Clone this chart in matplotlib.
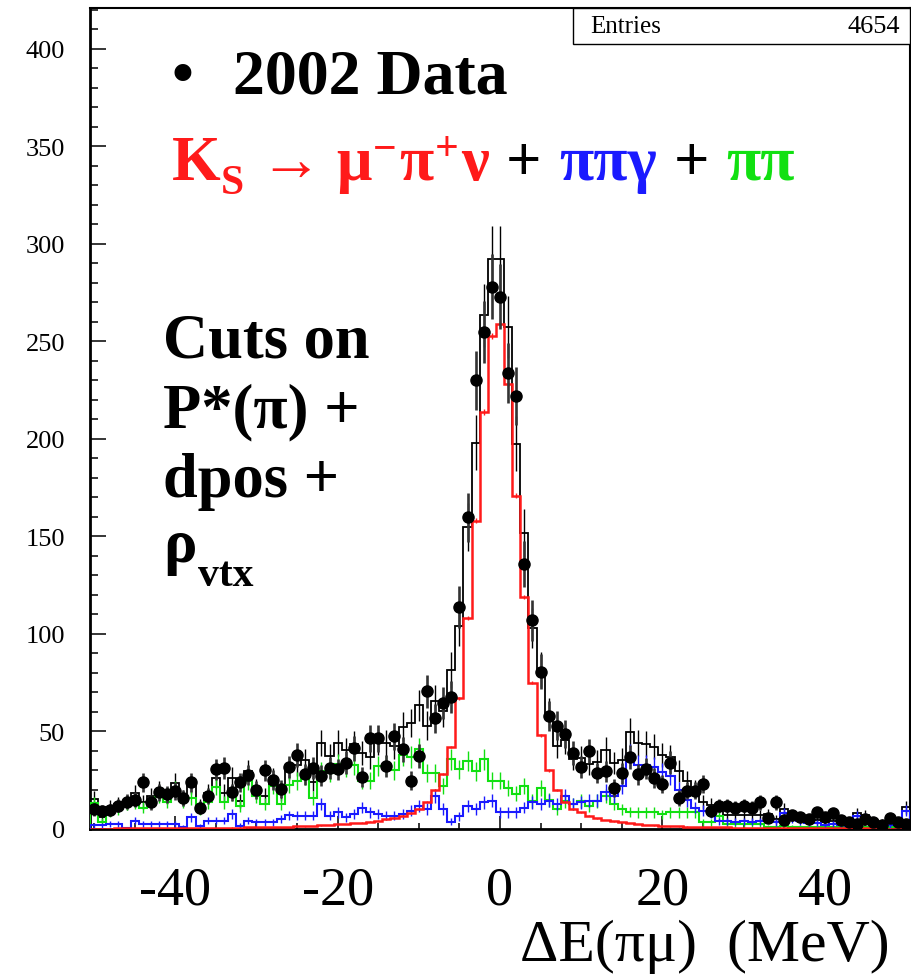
import numpy as np
import matplotlib
matplotlib.use("Agg")
import matplotlib.pyplot as plt
from matplotlib.patches import Rectangle
from matplotlib.ticker import MultipleLocator

plt.rcParams["font.family"] = ["Liberation Serif", "DejaVu Serif"]
plt.rcParams["axes.unicode_minus"] = False

# ---------------------------------------------------------------- data
# bin centres -50 ... 50 MeV, one bin per MeV
centers = np.arange(-50, 51)
edges = np.arange(-50.5, 51.0, 1.0)

data = [10, 9.4, 9.9, 12, 14, 15, 24, 13.6, 18.8, 17.8,
        19.5, 16, 24, 11, 17, 30.6, 31.5, 18.8, 24, 27.6,
        20, 30, 25, 20.6, 31.6, 38, 28, 31.5, 27.4, 31.5,
        30.6, 34, 41.5, 26.8, 46.5, 46.5, 32.5, 47.5, 41, 24.8,
        37.6, 70.6, 56.8, 64.6, 67.9, 113.7, 159.8, 230, 255, 278,
        273, 234, 222, 136, 107, 80.7, 58, 53, 48.7, 39,
        32, 40, 28.7, 29.6, 20.9, 28.5, 36.8, 28, 31, 26,
        23, 34, 16, 19.6, 19.6, 23, 9.4, 12, 12, 11,
        12, 11, 13.7, 5.8, 13.7, 4.5, 7, 6, 5, 8.5,
        6, 8, 4.5, 3.4, 2.6, 5, 3.7, 2, 5.8, 3.4, 2.6]

# K_S -> mu pi nu
kmu3 = [0.2, 0.2, 0.2, 0.3, 0.3, 0.3, 0.3, 0.4, 0.4, 0.4,
        0.5, 0.5, 0.5, 0.6, 0.6, 0.6, 0.6, 0.7, 0.7, 0.8,
        0.8, 0.9, 0.9, 1.0, 1.1, 1.3, 1.4, 1.5, 1.8, 2.0,
        2.4, 2.6, 3.0, 3.3, 3.8, 4.3, 5.0, 5.8, 6.8, 8.0,
        10.5, 14, 20, 28, 42, 67, 108, 158, 214, 253,
        259, 228, 171, 119, 75, 48, 30, 20, 14, 10.5,
        8.5, 6.8, 5.6, 4.6, 4.0, 3.6, 3.0, 2.5, 2.1, 1.8,
        1.6, 1.4, 1.3, 1.2, 1.1, 1.0, 0.9, 0.8, 0.8, 0.7,
        0.7, 0.6, 0.6, 0.5, 0.5, 0.5, 0.5, 0.4, 0.4, 0.4,
        0.4, 0.3, 0.3, 0.3, 0.3, 0.3, 0.2, 0.2, 0.2, 0.2, 0.2]

# pi pi gamma
ppg = [2, 2, 2.5, 2.5, 0.5, 4.3, 2.6, 2.6, 2.6, 2.6,
       2.6, 1, 6, 1.5, 4.3, 4.3, 4.3, 7.7, 1.7, 4.3,
       3.4, 3.4, 3.4, 5, 7, 6.8, 6.8, 6.8, 12.8, 6.8,
       8.5, 6, 7.7, 11, 8.5, 7.7, 6.8, 6.8, 7.7, 9.4,
       12, 10.3, 17, 10.3, 3.8, 6.5, 12, 10.3, 13.7, 14.5,
       8.5, 8.5, 8.5, 11, 13.7, 12.8, 14.5, 12.8, 17, 12.8,
       13.7, 14.5, 14.5, 19, 17, 22, 38, 33, 33, 32,
       29, 27, 20, 15, 11, 9.4, 8, 4, 4, 3.8,
       4, 3.8, 4, 6, 3.4, 8, 5, 4, 3, 3,
       2, 2.6, 2, 1.7, 6.8, 6, 2, 2, 2, 2.6, 9.4]

# pi pi
pp = [13.3, 3.8, 8.7, 10, 12.8, 13.7, 11, 13.7, 17, 14,
      20.6, 14.4, 16, 10, 13.7, 21.5, 13.7, 18, 12, 24.6,
      17, 12.8, 22, 12.8, 22.6, 24.6, 27, 16, 29.7, 28.7,
      33.4, 31.7, 33, 24.8, 24.8, 32.5, 32.5, 30, 38, 37,
      41, 28.7, 28.7, 22, 35.7, 30.6, 34.8, 29.7, 35.7, 24.8,
      24.8, 21, 18, 22, 14.4, 21, 15, 10, 14.4, 12.8,
      14.4, 12, 14.4, 17, 12.8, 10, 8.7, 8.5, 8.5, 8.5,
      7.5, 8.5, 8.5, 8.5, 8.5, 3.4, 3.4, 6.8, 2.6, 2.6,
      2.6, 2.6, 2.6, 1, 1, 1.5, 1, 1, 0.8, 1.2,
      1, 1, 0.8, 1.5, 1, 0.8, 1, 1, 0.8, 1, 1.5]

entries = 4654

data = np.array(data)
kmu3 = np.array(kmu3)
ppg = np.array(ppg)
pp = np.array(pp)
total = kmu3 + ppg + pp

RED = "#ff1a1a"
BLUE = "#1a1aff"
GREEN = "#11e011"

# ---------------------------------------------------------------- figure
W, H = 912, 978
fig = plt.figure(figsize=(W / 100, H / 100), dpi=100)
ax = fig.add_axes([90 / W, 1 - 830 / H, 820 / W, 821 / H])

ax.stairs(total, edges, color="black", lw=1.3, zorder=2)
ax.errorbar(centers, total, yerr=np.sqrt(total), fmt="none", ecolor="black", elinewidth=1.0, zorder=2)

ax.stairs(pp, edges, color=GREEN, lw=1.5, zorder=3)
ax.errorbar(centers, pp, yerr=0.9 * np.sqrt(pp), fmt="none", ecolor=GREEN, elinewidth=1.0, zorder=3)

ax.stairs(ppg, edges, color=BLUE, lw=1.5, zorder=4)
ax.errorbar(centers, ppg, yerr=0.9 * np.sqrt(ppg), fmt="none", ecolor=BLUE, elinewidth=1.0, zorder=4)

ax.stairs(kmu3, edges, color=RED, lw=1.8, zorder=5)
ax.errorbar(centers, kmu3, yerr=0.1 * np.sqrt(kmu3), fmt="none", ecolor=RED, elinewidth=1.0, zorder=5)

ax.errorbar(centers, data, yerr=np.sqrt(data), fmt="o", color="black", ms=8,
            ecolor="#333333", elinewidth=1.9, zorder=6)

ax.set_xlim(-50.5, 50.5)
ax.set_ylim(0, 421)

ax.set_xticks([-40, -20, 0, 20, 40], labels=["-40", "-20", "0", "20", "40"])
ax.xaxis.set_minor_locator(MultipleLocator(5))
ax.set_yticks(np.arange(0, 401, 50), labels=[str(v) for v in range(0, 401, 50)])
ax.yaxis.set_minor_locator(MultipleLocator(10))

ax.tick_params(axis="x", which="major", direction="in", length=9.5, width=1.1, labelsize=39, pad=26)
ax.tick_params(axis="x", which="minor", direction="in", length=4.5, width=1.1)
ax.tick_params(axis="y", which="major", direction="in", length=11.5, width=1.1, labelsize=19, pad=18)
ax.tick_params(axis="y", which="minor", direction="in", length=6, width=1.1)
for side in ["left", "bottom"]:
    ax.spines[side].set_linewidth(2)
for side in ["top", "right"]:
    ax.spines[side].set_linewidth(1.5)

ax.set_xlabel("ΔE(πμ)  (MeV)", fontsize=43, ha="right", va="top")
ax.xaxis.set_label_coords(0.9756, -0.109)

# stats box
ax.add_patch(Rectangle((0.589, 0.956), 0.411, 0.044, transform=ax.transAxes,
                       facecolor="white", edgecolor="black", lw=1.0, zorder=10))
ax.text(0.61, 0.978, "Entries", transform=ax.transAxes, fontsize=18, va="center", zorder=11)
ax.text(0.988, 0.978, str(entries), transform=ax.transAxes, fontsize=19, va="center", ha="right", zorder=11)

# ---------------------------------------------------------------- labels on the plot
renderer = fig.canvas.get_renderer()


def write(parts, x, y):
    # parts: text, colour, size, vertical shift (px, down), gap before (px)
    for s, col, size, dy, gap in parts:
        x += gap
        t = fig.text(x / W, 1 - (y + dy) / H, s, color=col, fontsize=size,
                     fontweight="bold", va="baseline", ha="left")
        x += t.get_window_extent(renderer).width


fig.text(172 / W, 1 - 93 / H, "•", fontsize=45, fontweight="bold", va="baseline")
fig.text(233 / W, 1 - 93 / H, "2002 Data", fontsize=46, fontweight="bold", va="baseline")

write([("K", RED, 45, 0, 0), ("S", RED, 30, 14, 0), ("→", RED, 45, 0, 16),
       ("μ", RED, 45, 0, 14), ("−", RED, 30, -20, 1), ("π", RED, 45, 0, 3),
       ("+", RED, 30, -20, 1), ("ν", RED, 45, 0, 3), ("+", "black", 45, 0, 17),
       ("ππγ", BLUE, 45, 0, 17), ("+", "black", 45, 0, 17), ("ππ", GREEN, 45, 0, 17)],
      172, 180)

fig.text(163 / W, 1 - 357 / H, "Cuts on", fontsize=45, fontweight="bold", va="baseline")
fig.text(163 / W, 1 - 427 / H, "P*(π) +", fontsize=45, fontweight="bold", va="baseline")
fig.text(163 / W, 1 - 497 / H, "dpos +", fontsize=45, fontweight="bold", va="baseline")
write([("ρ", "black", 45, 0, 0), ("vtx", "black", 30, 24, 2)], 163, 562)

fig.savefig("out.png", dpi=100)
